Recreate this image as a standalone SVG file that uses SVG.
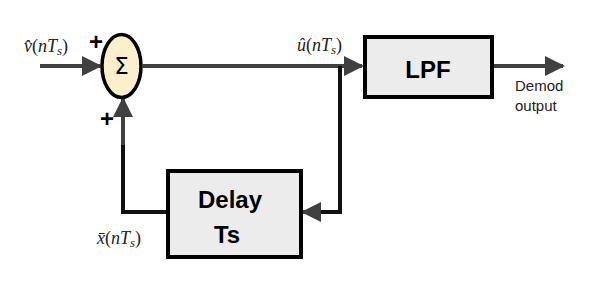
<svg xmlns="http://www.w3.org/2000/svg" width="600" height="283" viewBox="0 0 600 283">
<style>
.box{fill:#ececec;stroke:#000;stroke-width:4}
.lbl{font-family:"Liberation Sans",Arial,sans-serif;font-weight:bold;font-size:24px;fill:#000;text-anchor:middle}
.math{font-family:"Liberation Serif","DejaVu Serif",serif;font-size:18px;fill:#222}
.plus{font-family:"Liberation Sans",Arial,sans-serif;font-weight:bold;font-size:24px;fill:#000;text-anchor:middle}
.w{stroke:#404040;stroke-width:4;fill:none}
.k{stroke:#111;stroke-width:4;fill:none}
.small{font-family:"Liberation Sans",Arial,sans-serif;font-size:15px;fill:#222}
</style>
<defs>
<marker id="ah" markerWidth="5" markerHeight="5" refX="4.5" refY="2.5" orient="auto" markerUnits="strokeWidth">
<path d="M0,0 L5,2.5 L0,5 Z" fill="#404040"/>
</marker>
</defs>
<rect width="600" height="283" fill="#fff"/>
<g id="connectors">
<line class="w" x1="40" y1="66" x2="100" y2="66" marker-end="url(#ah)"/>
<line class="w" x1="143" y1="66" x2="362" y2="66" marker-end="url(#ah)"/>
<line class="w" x1="494" y1="66" x2="563" y2="66" marker-end="url(#ah)"/>
<polyline class="k" points="340,66 340,212 305,212"/>
<line class="w" x1="320" y1="212" x2="303" y2="212" marker-end="url(#ah)"/>
<polyline class="k" points="166,212 123,212 123,140"/>
<line class="w" x1="123" y1="145" x2="123" y2="99" marker-end="url(#ah)"/>
</g>
<g id="sum">
<ellipse cx="121.5" cy="66" rx="19.5" ry="31.5" fill="#fdefcc" stroke="#000" stroke-width="3.5"/>
<text x="121.5" y="74" font-family="DejaVu Sans,sans-serif" font-size="23" text-anchor="middle">Σ</text>
<text class="plus" x="96" y="50">+</text>
<text class="plus" x="107" y="127">+</text>
</g>
<g id="lpf">
<rect class="box" x="365" y="37" width="127" height="60"/>
<text class="lbl" x="428" y="78">LPF</text>
</g>
<g id="delay">
<rect class="box" x="168" y="171" width="133" height="86"/>
<text class="lbl" x="230" y="208">Delay</text>
<text class="lbl" x="227" y="243">Ts</text>
</g>
<g id="labels">
<text class="math" x="24" y="52"><tspan font-style="italic">v̂</tspan>(<tspan font-style="italic">nT</tspan><tspan font-style="italic" font-size="13" dy="3">s</tspan><tspan dy="-3">)</tspan></text>
<text class="math" x="297" y="51"><tspan font-style="italic">û</tspan>(<tspan font-style="italic">nT</tspan><tspan font-style="italic" font-size="13" dy="3">s</tspan><tspan dy="-3">)</tspan></text>
<text class="math" x="97" y="244"><tspan font-style="italic">x̄</tspan>(<tspan font-style="italic">nT</tspan><tspan font-style="italic" font-size="13" dy="3">s</tspan><tspan dy="-3">)</tspan></text>
<text class="small" x="515" y="91">Demod</text>
<text class="small" x="515" y="111">output</text>
</g>
</svg>
